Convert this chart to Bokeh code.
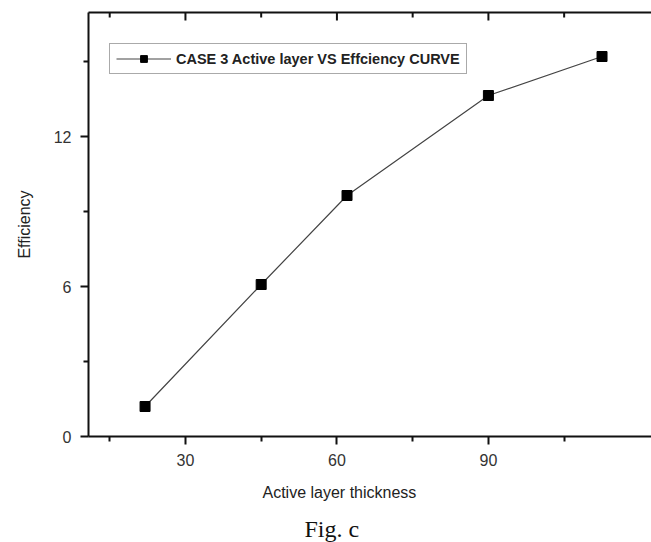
from bokeh.plotting import figure
from bokeh.models import FixedTicker, LinearAxis, Legend, Title, CustomJSTickFormatter
from bokeh.embed import file_html
from bokeh.resources import INLINE

# Active layer thickness vs. efficiency (case 3)
thickness = [22, 45, 62, 90, 112.5]
efficiency = [1.2, 6.08, 9.64, 13.64, 15.2]
x_ticks = [30, 60, 90]
x_minor = [15, 45, 75, 105]
y_ticks = [0, 6, 12]
y_minor = [3, 9, 15]
series_name = "CASE 3 Active layer VS Effciency CURVE"

y_top = 16.96
major_len = 0.32   # top tick lengths in data units along y
minor_len = 0.2

p = figure(
    width=651, height=542,
    x_range=(10.8, 122.3), y_range=(0, y_top),
    output_backend="svg", toolbar_location=None,
    min_border_left=88, min_border_right=0,
    min_border_top=12, min_border_bottom=106,
    y_axis_label="Efficiency",
)
p.grid.visible = False
p.outline_line_color = None
p.background_fill_color = None
p.border_fill_color = "white"

font = "Liberation Sans"
for ax in (p.xaxis[0], p.yaxis[0]):
    ax.axis_line_width = 2
    ax.axis_line_color = "#111111"
    ax.major_tick_line_width = 2
    ax.major_tick_line_color = "#111111"
    ax.minor_tick_line_width = 2
    ax.minor_tick_line_color = "#111111"
    ax.major_tick_in = 0
    ax.major_tick_out = 8
    ax.minor_tick_in = 0
    ax.minor_tick_out = 5
    ax.major_label_text_font = font
    ax.major_label_text_font_size = "16px"
    ax.major_label_text_color = "#333333"
    ax.axis_label_text_font = font
    ax.axis_label_text_font_size = "16px"
    ax.axis_label_text_font_style = "normal"
    ax.axis_label_text_color = "#222222"

p.xaxis[0].ticker = FixedTicker(ticks=x_ticks, minor_ticks=x_minor)
p.yaxis[0].ticker = FixedTicker(ticks=y_ticks, minor_ticks=y_minor)
p.xaxis[0].major_label_standoff = 9
p.yaxis[0].major_label_standoff = 9
p.yaxis[0].axis_label_standoff = 18

# top frame line (blank labels)
top = LinearAxis(ticker=FixedTicker(ticks=x_ticks, minor_ticks=x_minor),
                 formatter=CustomJSTickFormatter(code="return ''"))
top.axis_line_width = 2
top.axis_line_color = "#111111"
top.major_tick_in = 0
top.major_tick_out = 0
top.minor_tick_in = 0
top.minor_tick_out = 0
top.major_label_standoff = 0
p.add_layout(top, "above")

# inward tick marks hanging from the top frame line
p.segment(x0=x_ticks, y0=[y_top] * len(x_ticks),
          x1=x_ticks, y1=[y_top - major_len] * len(x_ticks),
          line_color="#111111", line_width=2)
p.segment(x0=x_minor, y0=[y_top] * len(x_minor),
          x1=x_minor, y1=[y_top - minor_len] * len(x_minor),
          line_color="#111111", line_width=2)

line = p.line(thickness, efficiency, line_color="#444444", line_width=1.2)
pts = p.scatter(thickness, efficiency, marker="square", size=10,
                fill_color="black", line_color="black")

legend = Legend(items=[(series_name, [line, pts])], location=(21, 362))
legend.border_line_color = "#555555"
legend.border_line_width = 1.5
legend.padding = 6
legend.margin = 0
legend.glyph_width = 55
legend.glyph_height = 17
legend.label_height = 17
legend.label_text_font = font
legend.label_text_font_size = "14.5px"
legend.label_text_font_style = "bold"
legend.label_text_color = "#222222"
legend.label_standoff = 5
legend.background_fill_color = "white"
legend.background_fill_alpha = 1.0
p.add_layout(legend, "center")

# x-axis title and figure caption below the axis
xtitle = Title(text="Active layer thickness", align="left", offset=174,
               text_font=font, text_font_size="16px",
               text_font_style="normal", text_color="#222222", standoff=26)
p.add_layout(xtitle, "below")
caption = Title(text="Fig. c", align="left", offset=216,
                text_font="Liberation Serif", text_font_size="24px",
                text_font_style="normal", text_color="#111111", standoff=0)
p.add_layout(caption, "below")

open("out.html", "w").write(file_html(p, INLINE))
